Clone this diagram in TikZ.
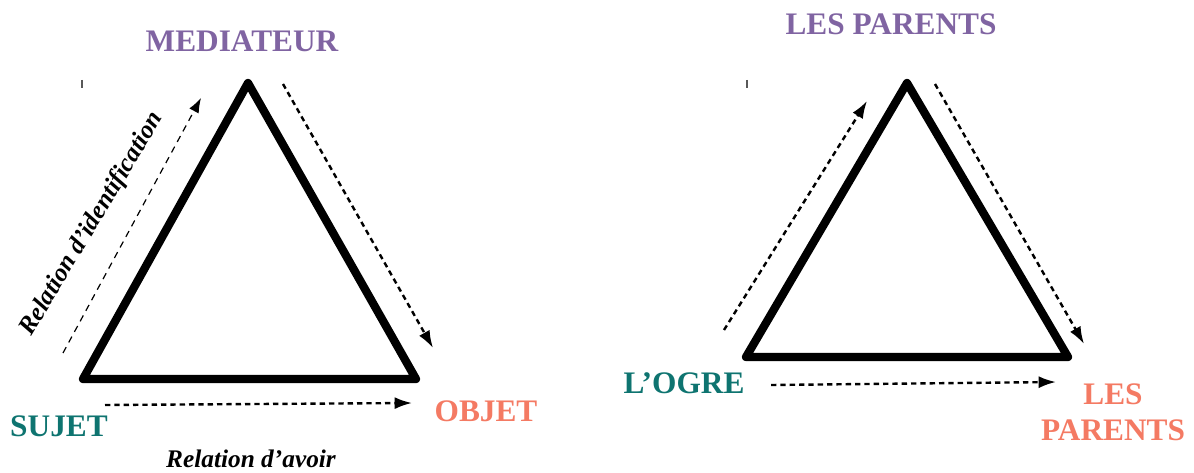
\documentclass[tikz,border=0pt]{standalone}
\usepackage{fontspec}
\setmainfont{Liberation Serif}
\usetikzlibrary{arrows.meta}
\definecolor{cpurple}{HTML}{8064A2}
\definecolor{cteal}{HTML}{0E7470}
\definecolor{csalmon}{HTML}{F47A63}
\begin{document}
\begin{tikzpicture}[x=0.75pt,y=-0.75pt,
  tri/.style={line width=6.2pt,line join=round,line cap=round},
  thinarrow/.style={line width=0.9pt,dash pattern=on 5pt off 4pt,-{Latex[length=11pt,width=8pt]}},
  dotarrow/.style={line width=1.8pt,dash pattern=on 4pt off 3pt,-{Latex[length=13pt,width=9pt]}},
  lab/.style={font=\fontsize{23.5}{27}\selectfont\bfseries,inner sep=0pt,align=center},
  rel/.style={font=\fontsize{19}{22}\selectfont\bfseries\itshape,inner sep=0pt},
  tick/.style={line width=1.4pt,gray!70!black}]
\useasboundingbox (0,0) rectangle (1194,473);
% left triangle
\coordinate (A1) at (248,83);
\coordinate (B1) at (83,379);
\coordinate (C1) at (416,379);
\draw[tri] (A1) -- (B1) -- (C1) -- cycle;
% right triangle
\coordinate (A2) at (907,83);
\coordinate (B2) at (746,357);
\coordinate (C2) at (1068,357);
\draw[tri] (A2) -- (B2) -- (C2) -- cycle;
% labels left
\node[lab,text=cpurple] (med) at (242,41) {MEDIATEUR};
\node[lab,text=cteal] (suj) at (59,426) {SUJET};
\node[lab,text=csalmon] (obj) at (486,411) {OBJET};
\node[rel] (ravoir) at (251,459) {Relation d’avoir};
\node[rel,rotate=59] (rident) at (92,224) {Relation d’identification};
% labels right
\node[lab,text=cpurple] (lp1) at (891,24) {LES PARENTS};
\node[lab,text=cteal] (ogre) at (684,383) {L’OGRE};
\node[lab,text=csalmon] (lp2) at (1113,412) {LES\\PARENTS};
% arrows left
\coordinate (a1s) at (63,353);
\coordinate (a1e) at (201,98);
\draw[thinarrow] (a1s) -- (a1e);
\coordinate (a2s) at (283,84);
\coordinate (a2e) at (433,348);
\draw[dotarrow] (a2s) -- (a2e);
\coordinate (a3s) at (105,405);
\coordinate (a3e) at (412,403);
\draw[dotarrow] (a3s) -- (a3e);
% arrows right
\coordinate (b1s) at (724,330);
\coordinate (b1e) at (867,101);
\draw[dotarrow] (b1s) -- (b1e);
\coordinate (b2s) at (935,84);
\coordinate (b2e) at (1084,344);
\draw[dotarrow] (b2s) -- (b2e);
\coordinate (b3s) at (771,385);
\coordinate (b3e) at (1056,382);
\draw[dotarrow] (b3s) -- (b3e);
% small ticks
\coordinate (t1a) at (82,80);
\coordinate (t1b) at (82,88);
\draw[tick] (t1a) -- (t1b);
\coordinate (t2a) at (747,80);
\coordinate (t2b) at (747,88);
\draw[tick] (t2a) -- (t2b);
\end{tikzpicture}
\end{document}
